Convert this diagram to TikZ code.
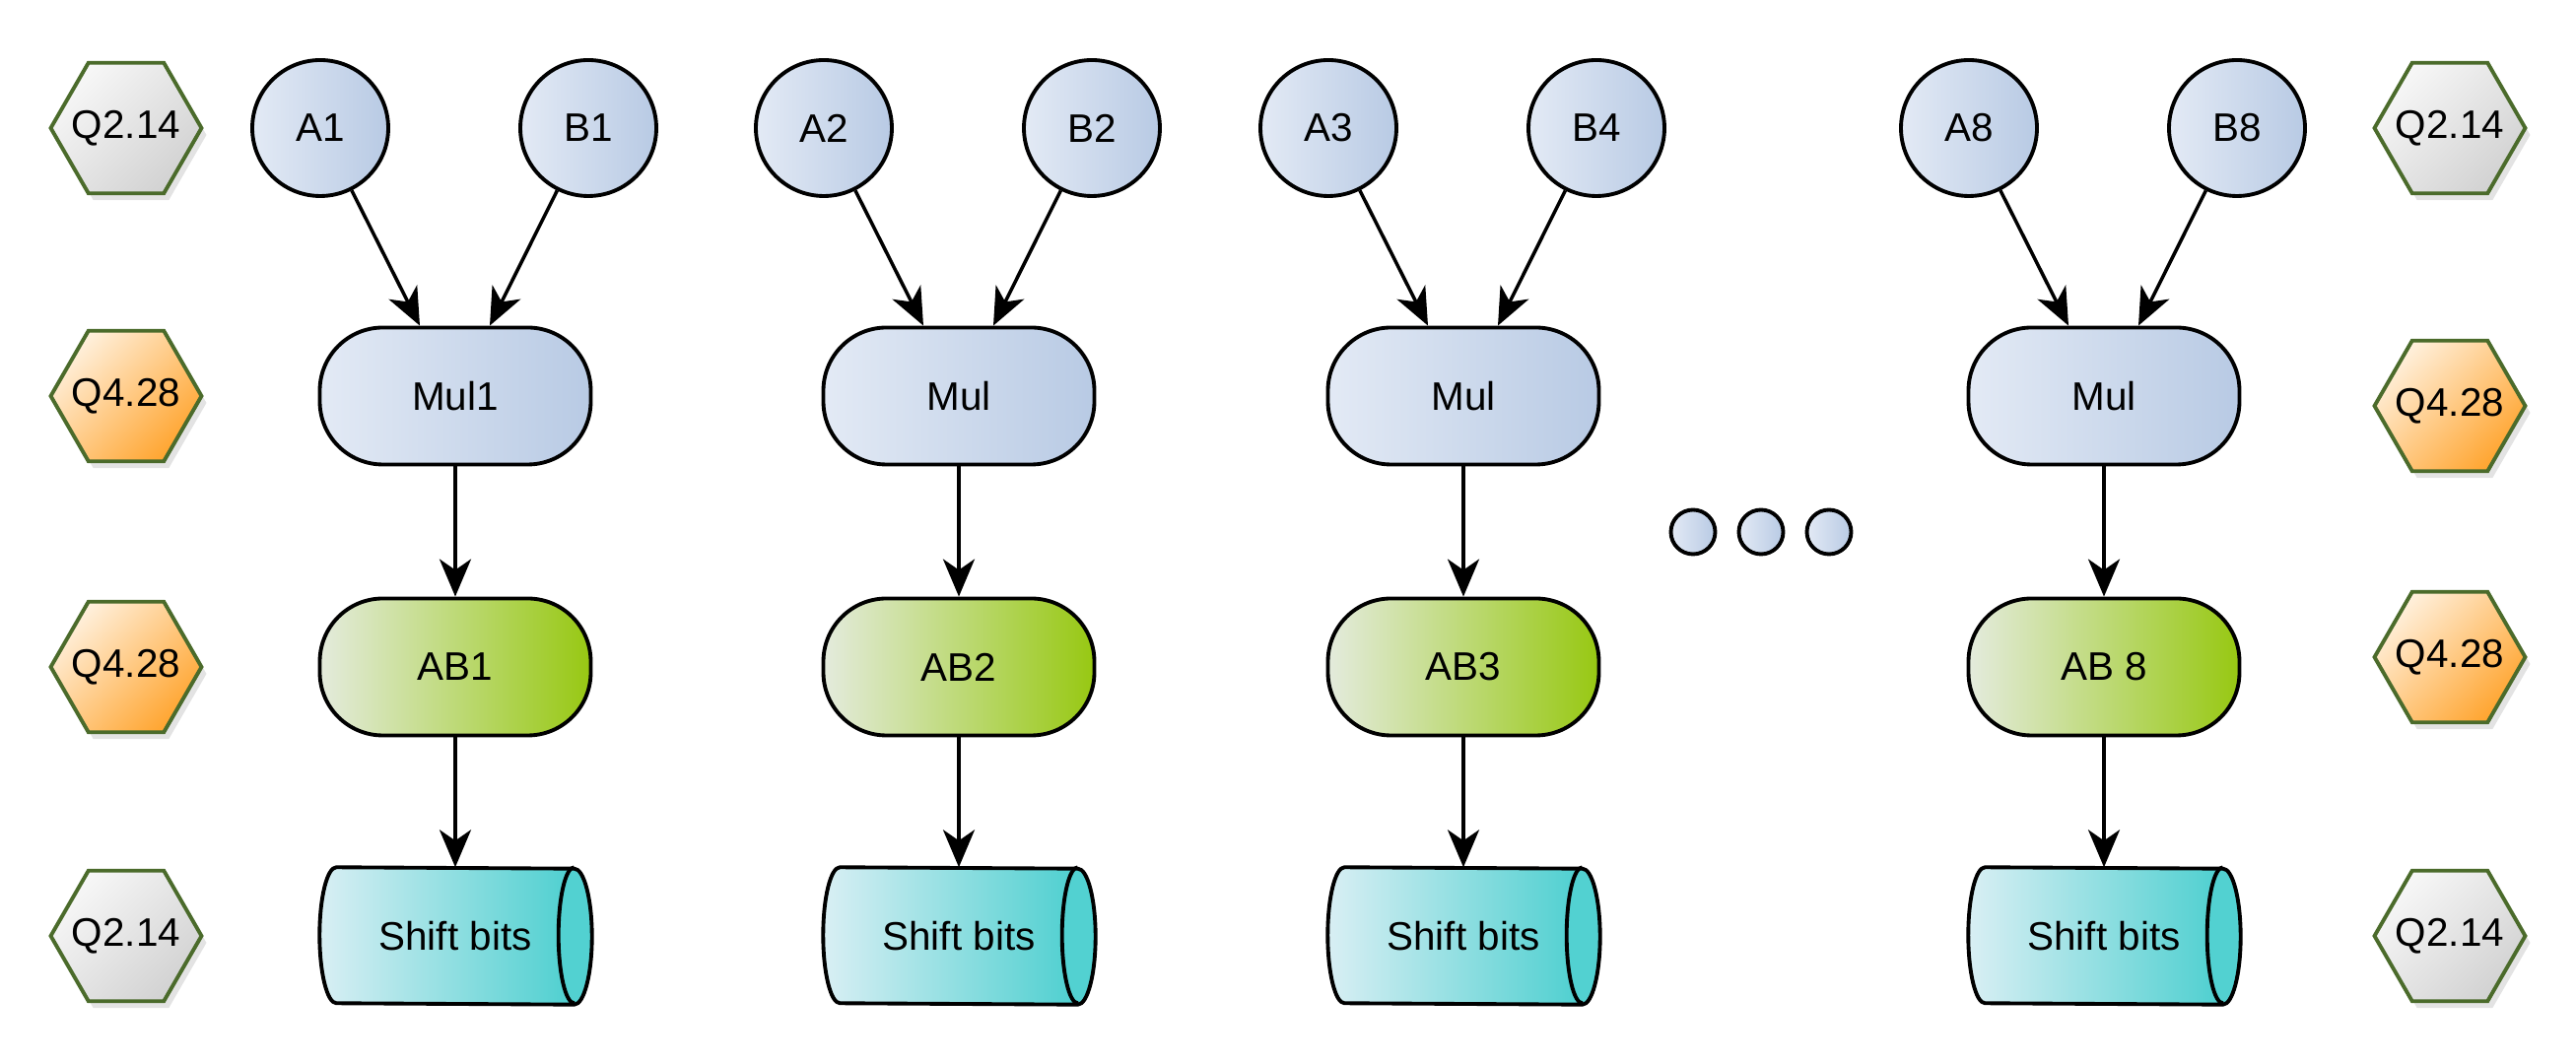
\documentclass[tikz,border=0pt]{standalone}
\usepackage{fontspec}
\setmainfont{Liberation Sans}
\usetikzlibrary{shapes.geometric,arrows.meta,shadows,backgrounds}
\definecolor{hexline}{HTML}{4B6B2B}
\definecolor{grayA}{HTML}{F7F7F7}
\definecolor{grayB}{HTML}{D2D2D2}
\definecolor{orangeA}{HTML}{FFF0DC}
\definecolor{orangeB}{HTML}{FFA530}
\definecolor{blueA}{HTML}{E3EAF5}
\definecolor{blueB}{HTML}{B8CAE4}
\definecolor{greenA}{HTML}{E4EBDD}
\definecolor{greenB}{HTML}{97C812}
\definecolor{tealA}{HTML}{D9EFF4}
\definecolor{tealB}{HTML}{43CDCD}
\begin{document}
\begin{tikzpicture}[x=1cm,y=1cm,font=\fontsize{11.5}{13}\selectfont,
  qhex/.style={regular polygon,regular polygon sides=6,minimum size=1.53cm,
    inner sep=0pt,draw=hexline,line width=1.1pt,
    drop shadow={opacity=0.22,shadow xshift=0.05cm,shadow yshift=-0.07cm}},
  qgray/.style={qhex,top color=grayA,bottom color=grayB,shading angle=45},
  qorange/.style={qhex,top color=orangeA,bottom color=orangeB,shading angle=45},
  invar/.style={circle,minimum size=1.38cm,inner sep=0pt,draw,line width=1.1pt,
    left color=blueA,right color=blueB},
  mulbox/.style={rectangle,rounded corners=0.64cm,minimum width=2.75cm,
    minimum height=1.39cm,draw,line width=1.1pt,left color=blueA,right color=blueB},
  abbox/.style={mulbox,left color=greenA,right color=greenB},
  shiftbox/.style={rectangle,minimum width=2.4cm,minimum height=1.38cm,inner sep=0pt},
  arr/.style={-{Stealth[length=0.38cm,width=0.32cm,inset=0.11cm]},line width=1pt}]
  \useasboundingbox (0,0) rectangle (26.14,10.8);
  % format tags on both sides
  \foreach \y/\s/\q [count=\i] in {9.50/qgray/Q2.14,6.78/qorange/Q4.28,
      4.03/qorange/Q4.28,1.30/qgray/Q2.14}
    \node[\s,label=center:\q] (hl\i) at (1.28,\y) {};
  \foreach \y/\s/\q [count=\i] in {9.50/qgray/Q2.14,6.68/qorange/Q4.28,
      4.13/qorange/Q4.28,1.30/qgray/Q2.14}
    \node[\s,label=center:\q] (hr\i) at (24.86,\y) {};
  % one column per product
  \foreach \x/\a/\b/\m/\r [count=\c] in {4.62/A1/B1/Mul1/AB1,9.73/A2/B2/Mul/AB2,
      14.85/A3/B4/Mul/AB3,21.35/A8/B8/Mul/AB 8} {
    \node[invar] (a\c) at (\x-1.37,9.50) {\a};
    \node[invar] (b\c) at (\x+1.35,9.50) {\b};
    \node[mulbox] (mul\c) at (\x,6.78) {\m};
    \node[abbox] (ab\c) at (\x,4.03) {\r};
    \node[shiftbox] (sh\c) at (\x,1.30) {Shift bits};
    \begin{scope}[on background layer]
      \shade[left color=tealA,right color=tealB]
        (sh\c.north west) arc[start angle=90,end angle=270,x radius=0.17,y radius=0.69]
        -- (sh\c.south east) arc[start angle=-90,end angle=90,x radius=0.18,y radius=0.69]
        -- cycle;
      \fill[tealB!92!white] (sh\c.north east)
        arc[start angle=90,end angle=-90,x radius=0.18,y radius=0.69]
        arc[start angle=-90,end angle=-270,x radius=0.16,y radius=0.69];
    \end{scope}
    \draw[line width=1.1pt,line join=round]
      (sh\c.north west) arc[start angle=90,end angle=270,x radius=0.17,y radius=0.69]
      -- (sh\c.south east) arc[start angle=-90,end angle=90,x radius=0.18,y radius=0.69]
      -- cycle;
    \draw[line width=1.1pt] (sh\c.north east)
      arc[start angle=90,end angle=270,x radius=0.16,y radius=0.69];
    \draw[arr] (a\c) -- ([xshift=-0.36cm]mul\c.north);
    \draw[arr] (b\c) -- ([xshift=0.35cm]mul\c.north);
    \draw[arr] (mul\c) -- (ab\c);
    \draw[arr] (ab\c) -- (sh\c);
  }
  % dots between columns 3 and 4
  \foreach \x [count=\i] in {17.18,17.87,18.56}
    \node[invar,minimum size=0.45cm] (dot\i) at (\x,5.40) {};
\end{tikzpicture}
\end{document}
